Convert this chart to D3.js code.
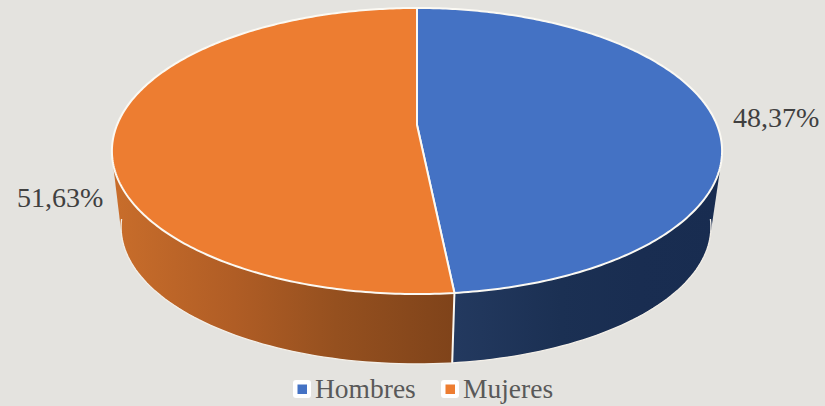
<!DOCTYPE html>
<html><head><meta charset="utf-8">
<script src="https://cdn.jsdelivr.net/npm/d3@7/dist/d3.min.js"></script>
<style>html,body{margin:0;padding:0;background:#e4e3df;overflow:hidden}svg{display:block}text{font-family:"Liberation Serif",serif}</style>
</head><body><svg width="825" height="406"></svg>
<script>
const categories = ["Hombres", "Mujeres"];
const values = [48.37, 51.63];
const valueLabels = ["48,37%", "51,63%"];
const topColors = ["#4472c4", "#ed7d31"];
const wallStops = [
  [["#23395f", 0], ["#1b3053", .4], ["#192d51", .7], ["#182c50", 1]],
  [["#7f431a", 0], ["#95501f", .35], ["#b05d25", .65], ["#c86d2b", 1]]
];

const svg = d3.select("svg");
const k = 0.1818;
// perspective projection of a unit disc onto the page
const project = (plane) => (a) => {
  const X = Math.sin(a), Y = -Math.cos(a), d = 1 - k * Y;
  return [plane.x + plane.a * X / d, plane.y + plane.b * Y / d];
};
const topPlane = {x: 417, a: 300, b: 138.3, y: 125};
const top3d = project(topPlane);
const bot3d = project({x: 416, a: 290, b: 132.5, y: 202});

const arcs = d3.pie().sort(null).value(d => d)(values);
const line = d3.line();
const samples = (s, e, n = 120) => d3.range(n + 1).map(i => s + (e - s) * i / n);

const defs = svg.append("defs");
wallStops.forEach((stops, i) => {
  const horizontal = i === 0 ? [455, 720] : [455, 115];
  const g = defs.append("linearGradient").attr("id", "wall" + i)
    .attr("gradientUnits", "userSpaceOnUse")
    .attr("x1", horizontal[0]).attr("x2", horizontal[1]).attr("y1", 0).attr("y2", 0);
  stops.forEach(([c, o]) => g.append("stop").attr("offset", o).attr("stop-color", c));
});

// outer walls: convex hull of each slice's top and bottom rims
arcs.forEach((d, i) => {
  const as = samples(d.startAngle, d.endAngle);
  const hull = d3.polygonHull(as.map(top3d).concat(as.map(bot3d)));
  svg.append("path").attr("d", line(hull) + "Z").attr("fill", `url(#wall${i})`);
});
// bottom rim and seam
const frontA = arcs[0].endAngle;
svg.append("path").attr("d", line(samples(Math.PI * .54, Math.PI * 1.46).map(bot3d)))
  .attr("fill", "none").attr("stroke", "#f3efe8").attr("stroke-width", 1.3);
svg.append("path").attr("d", line([top3d(frontA), bot3d(frontA)]))
  .attr("stroke", "#fbf8f2").attr("stroke-width", 2);

// top faces
const centre = [topPlane.x, topPlane.y];
arcs.forEach((d, i) => {
  const pts = [centre].concat(samples(d.startAngle, d.endAngle, 240).map(top3d));
  svg.append("path").attr("d", line(pts) + "Z").attr("fill", topColors[i])
    .attr("stroke", "#fbf9f3").attr("stroke-width", 2).attr("stroke-linejoin", "round");
});

// value labels
const labelPos = [[733, 127], [17, 207]];
valueLabels.forEach((t, i) => svg.append("text").attr("x", labelPos[i][0]).attr("y", labelPos[i][1])
  .attr("font-size", 28).attr("fill", "#404040").text(t));

// legend
const legendX = [293, 441];
categories.forEach((c, i) => {
  const g = svg.append("g").attr("transform", `translate(${legendX[i]},380)`);
  g.append("rect").attr("width", 18).attr("height", 18).attr("rx", 3).attr("fill", "#fff");
  g.append("rect").attr("x", 4.5).attr("y", 4.5).attr("width", 9.5).attr("height", 9.5).attr("fill", topColors[i]);
  g.append("text").attr("x", 22).attr("y", 18).attr("font-size", 27.5).attr("fill", "#595959").text(c);
});
</script></body></html>
